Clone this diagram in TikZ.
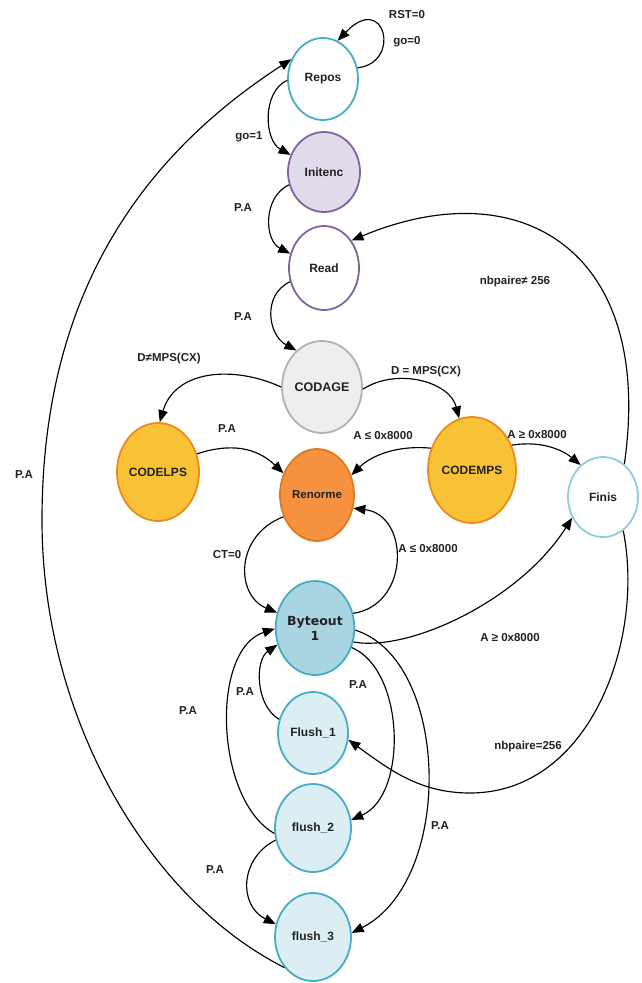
\documentclass[tikz,border=0pt]{standalone}
\usepackage{fontspec}
\setmainfont{Liberation Sans}
\newfontfamily\dejabold{DejaVu Sans}
\usetikzlibrary{shapes.geometric,arrows.meta}
\definecolor{tealb}{HTML}{47ADC4}
\definecolor{purpb}{HTML}{8064A2}
\definecolor{purpf}{HTML}{E1DAEB}
\definecolor{grayb}{HTML}{B2B2B2}
\definecolor{grayf}{HTML}{EEEEEE}
\definecolor{goldf}{HTML}{F7C235}
\definecolor{orab}{HTML}{EE8A1E}
\definecolor{renf}{HTML}{F5913F}
\definecolor{renb}{HTML}{E07A22}
\definecolor{finb}{HTML}{92CDDC}
\definecolor{bytef}{HTML}{A9D4E1}
\definecolor{flushf}{HTML}{DAEEF3}
\definecolor{txt}{HTML}{222222}
\begin{document}
\begin{tikzpicture}[x=1pt,y=1pt,
  st/.style={ellipse, draw, line width=1.8pt, inner sep=0pt, align=center,
    font=\fontsize{12}{13}\selectfont\bfseries, text=txt},
  lbl/.style={font=\fontsize{11.5}{13}\selectfont\bfseries, text=txt, inner sep=0pt},
  conn/.style={line width=1.15pt, draw=black, -{Triangle[length=12pt,width=9.5pt]}}]
\useasboundingbox (0,0) rectangle (642,-983);
\fill[white] (0,0) rectangle (642,-983);

% states
\node[st, draw=tealb, fill=white, minimum width=70pt, minimum height=82pt] (repos) at (323,-79) {Repos};
\node[st, draw=purpb, fill=purpf, minimum width=72pt, minimum height=80pt] (initenc) at (324,-172) {Initenc};
\node[st, draw=purpb, fill=white, minimum width=70pt, minimum height=84pt] (read) at (324,-268) {Read};
\node[st, draw=grayb, fill=grayf, minimum width=80pt, minimum height=92pt, font=\fontsize{12.5}{14}\selectfont\bfseries] (codage) at (322,-387) {CODAGE};
\node[st, draw=orab, fill=goldf, minimum width=82pt, minimum height=98pt, font=\fontsize{12}{14}\selectfont\bfseries] (codelps) at (158,-472) {CODELPS};
\node[st, draw=renb, fill=renf, minimum width=74pt, minimum height=92pt, font=\fontsize{11.5}{13}\selectfont\bfseries] (renorme) at (317,-495) {Renorme};
\node[st, draw=orab, fill=goldf, minimum width=88pt, minimum height=106pt, font=\fontsize{12}{14}\selectfont\bfseries] (codemps) at (472,-470) {CODEMPS};
\node[st, draw=finb, fill=white, minimum width=70pt, minimum height=80pt] (finis) at (603,-497) {Finis};
\node[st, draw=tealb, fill=bytef, minimum width=78pt, minimum height=94pt, font=\dejabold\fontsize{12.5}{15}\selectfont\bfseries] (byteout) at (315,-628) {Byteout\\1};
\node[st, draw=tealb, fill=flushf, minimum width=70pt, minimum height=82pt] (flush1) at (313,-733) {Flush\_1};
\node[st, draw=tealb, fill=flushf, minimum width=76pt, minimum height=88pt] (flush2) at (313,-828) {flush\_2};
\node[st, draw=tealb, fill=flushf, minimum width=76pt, minimum height=88pt] (flush3) at (313,-937) {flush\_3};

% transitions
\draw[conn] (repos.18) .. controls (402,-63) and (385,9) .. (repos.69);
\draw[conn] (repos.182) .. controls (262,-92) and (264,-140) .. (initenc.153);
\draw[conn] (initenc.200) .. controls (263,-197) and (264,-240) .. (read.157);
\draw[conn] (read.202) .. controls (262,-295) and (268,-335) .. (codage.125);
\draw[conn] (codage.180) .. controls (233,-365) and (175,-370) .. (codelps.88);
\draw[conn] (codage.357) .. controls (398,-367) and (450,-382) .. (codemps.104);
\draw[conn] (codelps.25) .. controls (230,-443) and (256,-447) .. (renorme.147);
\draw[conn] (codemps.152) .. controls (398,-445) and (372,-455) .. (renorme.30);
\draw[conn] (codemps.32) .. controls (545,-440) and (565,-452) .. (finis.125);
\draw[conn] (finis.57) .. controls (655,-250) and (520,-170) .. (read.45);
\draw[conn] (renorme.213) .. controls (235,-535) and (235,-595) .. (byteout.158);
\draw[conn] (byteout.21) .. controls (410,-605) and (410,-515) .. (renorme.340);
\draw[conn] (byteout.340) .. controls (410,-652) and (520,-600) .. (finis.214);
\coordinate (nbbot) at (470,-793);
\draw[conn] (finis.301) .. controls (645,-640) and (590,-793) .. (nbbot) .. controls (420,-793) and (390,-770) .. (flush1.349);
\draw[conn] (byteout.332) .. controls (405,-670) and (408,-795) .. (flush2.12);
\draw[conn] (byteout.357) .. controls (450,-660) and (455,-880) .. (flush3.6);
\draw[conn] (flush1.158) .. controls (255,-705) and (255,-660) .. (byteout.204);
\draw[conn] (flush2.188) .. controls (215,-800) and (210,-650) .. (byteout.181);
\draw[conn] (flush2.198) .. controls (240,-858) and (238,-905) .. (flush3.161);
\coordinate (leftmost) at (42,-520);
\draw[conn] (flush3.227) .. controls (150,-900) and (42,-720) .. (leftmost) .. controls (42,-320) and (120,-170) .. (repos.148);

% labels
\node[lbl] (l1) at (407,-15) {RST=0};
\node[lbl] (l2) at (407,-42) {go=0};
\node[lbl] (l3) at (249,-137) {go=1};
\node[lbl] (l4) at (243,-208) {P.A};
\node[lbl] (l5) at (243,-317) {P.A};
\node[lbl] (l6) at (169,-359) {D≠MPS(CX)};
\node[lbl] (l7) at (426,-372) {D = MPS(CX)};
\node[lbl] (l8) at (227,-429) {P.A};
\node[lbl] (l9) at (383,-436) {A ≤ 0x8000};
\node[lbl] (l10) at (537,-435) {A ≥ 0x8000};
\node[lbl] (l11) at (515,-282) {nbpaire≠\ 256};
\node[lbl] (l12) at (227,-555) {CT=0};
\node[lbl] (l13) at (428,-549) {A ≤ 0x8000};
\node[lbl] (l14) at (510,-638) {A ≥ 0x8000};
\node[lbl] (l15) at (245,-692) {P.A};
\node[lbl] (l16) at (188,-711) {P.A};
\node[lbl] (l17) at (358,-685) {P.A};
\node[lbl] (l18) at (528,-747) {nbpaire=256};
\node[lbl] (l19) at (440,-826) {P.A};
\node[lbl] (l20) at (215,-870) {P.A};
\node[lbl] (l21) at (24,-475) {P.A};
\end{tikzpicture}
\end{document}
